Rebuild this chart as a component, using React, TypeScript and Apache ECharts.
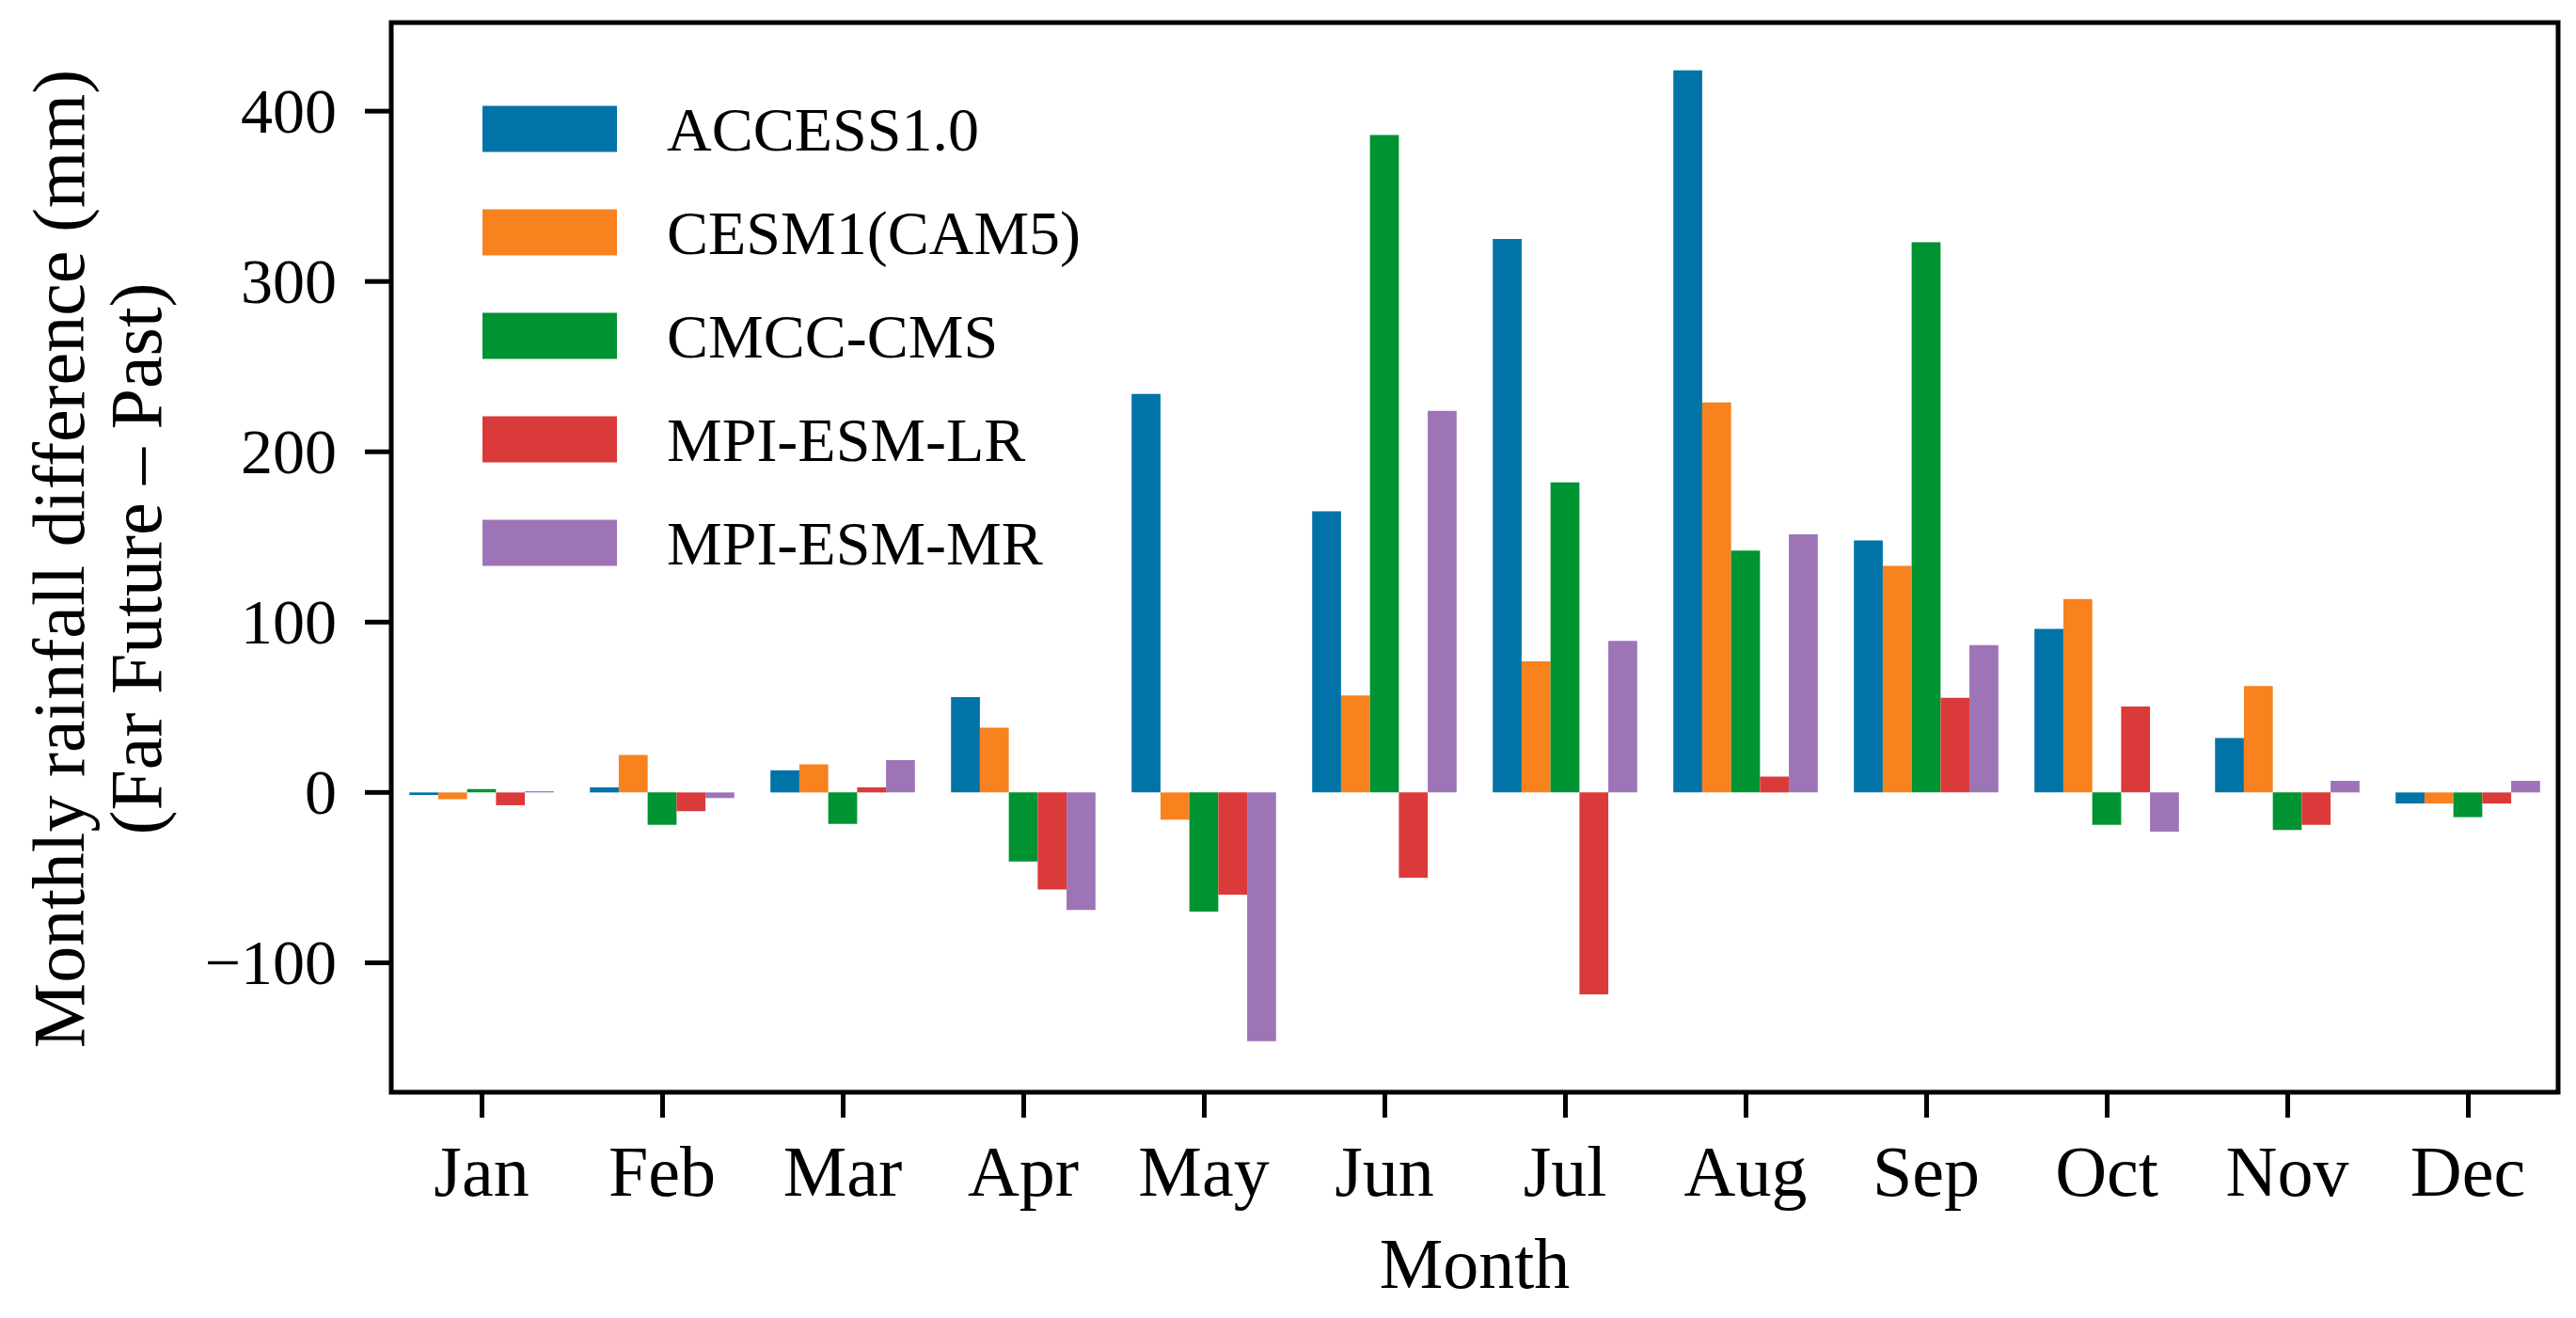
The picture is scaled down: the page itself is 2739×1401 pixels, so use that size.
import React, { useEffect, useRef } from "react";
import * as echarts from "echarts";

const months = ["Jan", "Feb", "Mar", "Apr", "May", "Jun", "Jul", "Aug", "Sep", "Oct", "Nov", "Dec"];
const seriesNames = ["ACCESS1.0", "CESM1(CAM5)", "CMCC-CMS", "MPI-ESM-LR", "MPI-ESM-MR"];
const access = [-1.5, 3, 13, 56, 234, 165, 325, 424, 148, 96, 32, -6.5];
const cesm = [-4, 22, 16.5, 38, -16, 57, 77, 229, 133, 113.5, 62.5, -6.5];
const cmcc = [2, -19, -18.5, -40.5, -70, 386, 182, 142, 323, -19, -22, -14.5];
const mpiLR = [-7.5, -11, 3, -57, -60, -50, -118.5, 9.3, 55.5, 50.5, -19, -6.5];
const mpiMR = [0.7, -3.3, 19, -69, -146, 224, 89, 151.5, 86.5, -23, 6.8, 6.8];
const yTicks = [-100, 0, 100, 200, 300, 400];
const colors = ["#0173A6", "#F8821E", "#009331", "#DB3A3B", "#9D74B6"];

const FONT = "'Liberation Serif', 'DejaVu Serif', serif";
const GRID_LEFT = 416;

export default function App() {
  const ref = useRef<HTMLDivElement>(null);
  useEffect(() => {
    if (!ref.current) return;
    const chart = echarts.init(ref.current, undefined, { renderer: "svg" });
    const data = [access, cesm, cmcc, mpiLR, mpiMR];
    const yTitle = {
      type: "text",
      x: 103,
      y: 594,
      rotation: Math.PI / 2,
      style: {
        text: "Monthly rainfall difference (mm)\n(Far Future \u2013 Past)",
        fontFamily: FONT,
        fontSize: 78,
        lineHeight: 82,
        fill: "#000",
        textAlign: "center",
        textVerticalAlign: "middle",
      },
    };
    chart.setOption({
      animation: false,
      backgroundColor: "#ffffff",
      grid: {
        left: GRID_LEFT,
        top: 24,
        right: 19,
        bottom: 240,
        show: true,
        borderColor: "#000",
        borderWidth: 5,
        backgroundColor: "transparent",
      },
      legend: {
        orient: "vertical",
        left: 508,
        top: 99,
        itemWidth: 143,
        itemHeight: 49,
        itemGap: 44,
        icon: "rect",
        data: seriesNames,
        textStyle: {
          fontFamily: FONT,
          fontSize: 66,
          color: "#000",
          lineHeight: 60,
          padding: [0, 0, 0, 48],
        },
      },
      xAxis: {
        type: "category",
        data: months,
        name: "Month",
        nameLocation: "middle",
        nameGap: 144,
        nameTextStyle: { fontFamily: FONT, fontSize: 76, color: "#000" },
        axisLine: { show: false, onZero: false },
        axisTick: { show: true, alignWithLabel: true, length: 27, lineStyle: { color: "#000", width: 5 } },
        axisLabel: { fontFamily: FONT, fontSize: 76, color: "#000", margin: 46 },
        splitLine: { show: false },
      },
      yAxis: {
        type: "value",
        min: -176,
        max: 452,
        axisLine: { show: false },
        axisTick: { show: false },
        axisLabel: {
          fontFamily: FONT,
          fontSize: 68,
          color: "#000",
          margin: 58,
          customValues: yTicks,
          formatter: (v: number) => String(v).replace("-", "\u2212"),
        },
        splitLine: { show: false },
      },
      graphic: [yTitle],
      series: seriesNames.map((name, i) => ({
        name,
        type: "bar",
        data: data[i],
        barGap: "0%",
        barCategoryGap: "20%",
        itemStyle: { color: colors[i] },
      })),
    });
    // y-axis tick marks positioned through the axis scale
    const tickEls = yTicks.map((v) => {
      const y = chart.convertToPixel({ yAxisIndex: 0 }, v) as number;
      return {
        type: "line",
        shape: { x1: GRID_LEFT - 28, y1: y, x2: GRID_LEFT, y2: y },
        style: { stroke: "#000", lineWidth: 5 },
        z: 10,
      };
    });
    chart.setOption({ graphic: [yTitle, ...tickEls] });
    return () => chart.dispose();
  }, []);
  return (
    <div
      ref={ref}
      style={{ position: "fixed", left: 0, top: 0, width: 2739, height: 1401, background: "#fff" }}
    />
  );
}
